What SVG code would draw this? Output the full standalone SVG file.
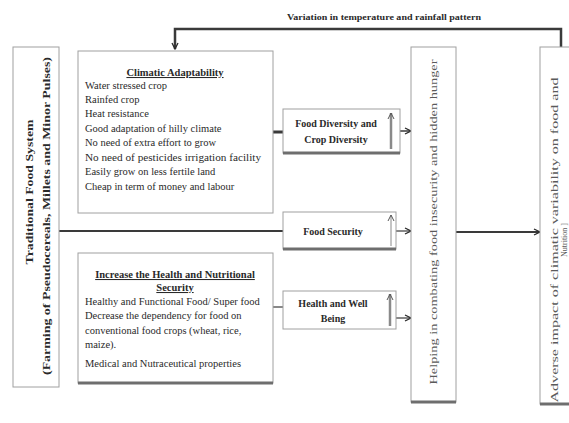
<svg xmlns="http://www.w3.org/2000/svg" width="569" height="423" viewBox="0 0 569 423">
<style>
.box{fill:#fff;stroke:#a0a0a0;stroke-width:1}
.sh{stroke:#6e6e6e;stroke-width:3}
text{font-family:"Liberation Serif","Times New Roman","DejaVu Serif",serif;font-size:10.5px;fill:#2a2a2a}
.b{font-weight:bold}
.u{text-decoration:underline}
.lt{fill:#5a5a5a}
.con{fill:none;stroke:#3a3a3a}
.up{stroke:#8a8a8a;fill:none}
</style>
<defs>
<marker id="ah" markerWidth="8" markerHeight="8" refX="7" refY="4" orient="auto" markerUnits="userSpaceOnUse">
<path d="M1,1 L7,4 L1,7" fill="none" stroke="#2a2a2a" stroke-width="1.3"/>
</marker>
<marker id="uh" markerWidth="8" markerHeight="8" refX="7" refY="4" orient="auto" markerUnits="userSpaceOnUse">
<path d="M1,1 L7,4 L1,7" fill="none" stroke="#555" stroke-width="1"/>
</marker>
</defs>
<rect width="569" height="423" fill="#fff"/>

<g id="connectors">
<polyline class="con" points="561,47 561,29 175,29 175,49" stroke-width="2.5" marker-end="url(#ah)"/>
<line class="con" x1="273" y1="132" x2="283" y2="132" stroke-width="3"/>
<line class="con" x1="59" y1="231" x2="283" y2="231" stroke-width="2"/>
<line class="con" x1="273" y1="307" x2="283" y2="307" stroke-width="1.2"/>
<line class="con" x1="400" y1="131" x2="411" y2="131" stroke-width="1.5" marker-end="url(#ah)"/>
<line class="con" x1="396" y1="231" x2="411" y2="231" stroke-width="1.2" marker-end="url(#ah)"/>
<line class="con" x1="396" y1="318" x2="411" y2="318" stroke-width="1.2" marker-end="url(#ah)"/>
<line class="con" x1="456" y1="232" x2="540" y2="232" stroke-width="2" marker-end="url(#ah)"/>
</g>

<text class="b" x="287" y="20" style="font-size:9px" textLength="194" lengthAdjust="spacingAndGlyphs">Variation in  temperature and rainfall pattern</text>

<g id="traditional">
<rect class="box" x="13" y="47" width="46" height="340"/>
<text class="b" transform="translate(33,192) rotate(-90)" text-anchor="middle" style="font-size:11px" textLength="145" lengthAdjust="spacingAndGlyphs">Traditional  Food System</text>
<text class="b" transform="translate(50,216) rotate(-90)" text-anchor="middle" style="font-size:11px" textLength="318" lengthAdjust="spacingAndGlyphs">(Farming of Pseudocereals, Millets and  Minor Pulses)</text>
</g>

<g id="climatic">
<rect class="box" x="78" y="51" width="195" height="162"/>
<text class="b u" x="175" y="76" text-anchor="middle">Climatic Adaptability</text>
<text x="85" y="89">Water stressed crop</text>
<text x="85" y="103">Rainfed crop</text>
<text x="85" y="117">Heat resistance</text>
<text x="85" y="132">Good adaptation of hilly climate</text>
<text x="85" y="146">No need of extra effort to grow</text>
<text x="85" y="161" textLength="176" lengthAdjust="spacingAndGlyphs">No need of pesticides  irrigation  facility</text>
<text x="85" y="175">Easily grow on less fertile land</text>
<text x="85" y="190">Cheap in term of money and labour</text>
</g>

<g id="health">
<rect class="box" x="78" y="253" width="195" height="130"/>
<line class="sh" x1="78" y1="383" x2="273" y2="383"/>
<text class="b u" x="175" y="278" text-anchor="middle">Increase the Health and Nutritional</text>
<text class="b u" x="175" y="291" text-anchor="middle">Security</text>
<text x="85" y="305">Healthy and Functional Food/ Super food</text>
<text x="85" y="319">Decrease the dependency for food on</text>
<text x="85" y="334">conventional food crops (wheat, rice,</text>
<text x="85" y="348">maize).</text>
<text x="85" y="367">Medical and Nutraceutical properties</text>
</g>

<g id="fooddiv">
<rect class="box" x="283" y="109" width="117" height="44"/>
<line class="sh" x1="283" y1="153" x2="400" y2="153" stroke-width="2"/>
<text class="b" x="336" y="127" text-anchor="middle" style="font-size:10px">Food Diversity and</text>
<text class="b" x="336" y="143" text-anchor="middle" style="font-size:10px">Crop Diversity</text>
<line class="up" x1="391" y1="149" x2="391" y2="113" stroke-width="2.5" marker-end="url(#uh)"/>
</g>

<g id="foodsec">
<rect class="box" x="283" y="212" width="113" height="37"/>
<line class="sh" x1="283" y1="249" x2="396" y2="249" stroke-width="2"/>
<text class="b" x="333" y="235" text-anchor="middle" style="font-size:10px">Food Security</text>
<line class="up" x1="391" y1="246" x2="391" y2="215" stroke-width="1" marker-end="url(#uh)"/>
</g>

<g id="wellbeing">
<rect class="box" x="283" y="291" width="113" height="38"/>
<text class="b" x="333" y="307" text-anchor="middle" style="font-size:10px">Health and Well</text>
<text class="b" x="333" y="322" text-anchor="middle" style="font-size:10px">Being</text>
<line class="up" x1="390" y1="326" x2="390" y2="294" stroke-width="2.5" marker-end="url(#uh)"/>
</g>

<g id="helping">
<rect class="box" x="411" y="47" width="45" height="355"/>
<line class="sh" x1="411" y1="402" x2="456" y2="402"/>
<text class="lt" transform="translate(437,222) rotate(-90)" text-anchor="middle" textLength="325" lengthAdjust="spacingAndGlyphs">Helping in combating food insecurity and hidden hunger</text>
</g>

<g id="adverse">
<rect class="box" x="540" y="47" width="40" height="357"/>
<line class="sh" x1="540" y1="404" x2="569" y2="404"/>
<text class="lt" transform="translate(558,240) rotate(-90)" text-anchor="middle" textLength="325" lengthAdjust="spacingAndGlyphs">Adverse impact of climatic variability  on food  and</text>
<text class="lt" transform="translate(566.5,240) rotate(-90)" text-anchor="middle" style="font-size:8px">Nutrition   ]</text>
</g>
</svg>
